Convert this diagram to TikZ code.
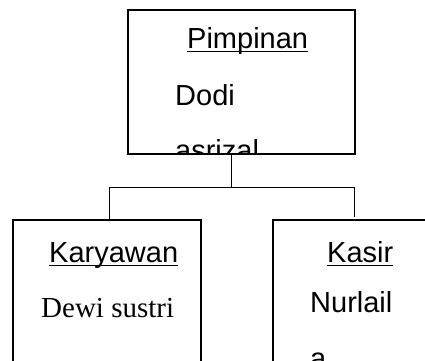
\documentclass[tikz,border=0pt]{standalone}
\usepackage{fontspec}
\setmainfont{Liberation Sans}
\newfontfamily\timesfont{Liberation Serif}

\begin{document}
\begin{tikzpicture}[x=1pt, y=1pt,
    box/.style={draw, line width=1.2pt, inner sep=0pt},
    txt/.style={anchor=base west, inner sep=0pt, font=\fontsize{29}{35}\selectfont}]
    \useasboundingbox (0,0) rectangle (425,360);
    \clip (0,0) rectangle (425,360);
    % boxes
    \node[box, minimum width=227pt, minimum height=144pt] (pimpinan) at (241.5,278) {};
    \node[box, minimum width=188pt, minimum height=170pt] (karyawan) at (107,55) {};
    \node[box, minimum width=172pt, minimum height=170pt] (kasir) at (359,55) {};
    % connectors
    \coordinate (cabang) at (231,173);
    \coordinate (kiri) at (109,173);
    \coordinate (kanan) at (354,173);
    \draw[line width=1pt] (pimpinan.south -| cabang) -- (cabang);
    \draw[line width=1pt] (kiri) -- (kanan);
    \draw[line width=1pt] (kiri) -- (kiri |- karyawan.north);
    \draw[line width=1pt] (kanan) -- ++(0,-30);
    % texts
    \node[txt] (tPimpinan) at (187,312) {Pimpinan};
    \draw[line width=1.6pt] ([yshift=-3.5pt]tPimpinan.base west) -- ([yshift=-3.5pt]tPimpinan.base east);
    \node[txt] (tDodi) at (175,255) {Dodi};
    \begin{scope}
        \clip (pimpinan.north west) rectangle (pimpinan.south east);
        \node[txt] (tAsrizal) at (175,200) {asrizal};
    \end{scope}
    \node[txt] (tKaryawan) at (49,98) {Karyawan};
    \draw[line width=1.6pt] ([yshift=-3.5pt]tKaryawan.base west) -- ([yshift=-3.5pt]tKaryawan.base east);
    \node[txt, font=\fontsize{29}{35}\timesfont] (tDewi) at (41,43) {Dewi sustri};
    \node[txt] (tKasir) at (327,98) {Kasir};
    \draw[line width=1.6pt] ([yshift=-3.5pt]tKasir.base west) -- ([yshift=-3.5pt]tKasir.base east);
    \node[txt] (tNurlail) at (310,48) {Nurlail};
    \node[txt] (tA) at (310,-8) {a};
\end{tikzpicture}
\end{document}
